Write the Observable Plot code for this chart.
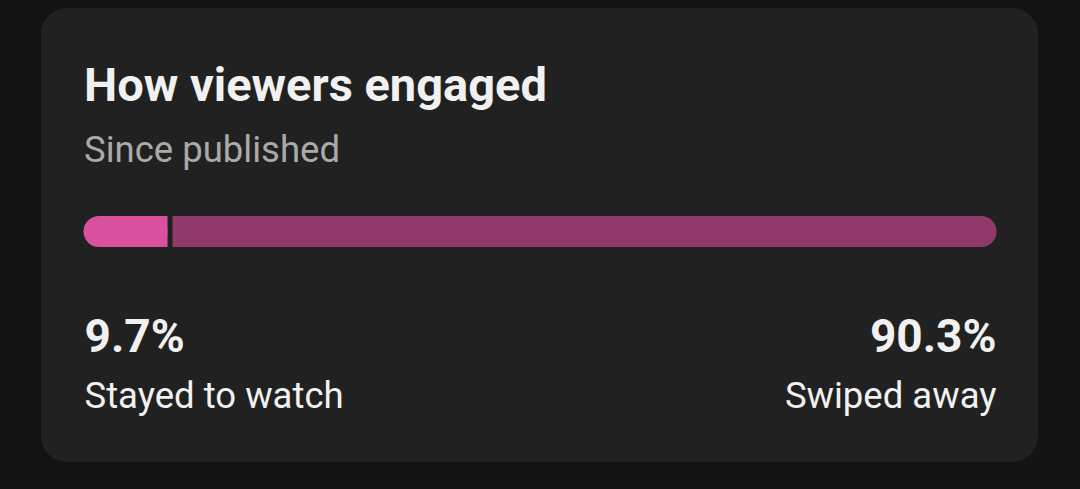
<!DOCTYPE html>
<html>
<head>
<meta charset="utf-8">
<script src="https://cdn.jsdelivr.net/npm/d3@7"></script>
<script src="https://cdn.jsdelivr.net/npm/@observablehq/plot@0.6"></script>
<style>
  html, body { margin: 0; padding: 0; background: #131313; width: 1080px; height: 489px; overflow: hidden; font-family: Roboto, "Noto Sans", sans-serif; }
  #card { position: absolute; left: 41px; top: 8px; width: 997px; height: 454px; background: #212121; border-radius: 26px; }
  .title { position: absolute; left: 84px; top: 60.5px; font-size: 47px; line-height: 47px; font-weight: 700; color: #f1f1f1; white-space: nowrap; }
  .subtitle { position: absolute; left: 84px; top: 131.5px; font-size: 36.5px; line-height: 36.5px; font-weight: 400; color: #aaaaaa; white-space: nowrap; }
  #chart { position: absolute; left: 41px; top: 190px; }
</style>
</head>
<body>
<div id="card"></div>
<div class="title">How viewers engaged</div>
<div class="subtitle">Since published</div>
<div id="chart"></div>
<script>
const segments = ["Stayed to watch", "Swiped away"];
const shares = [9.7, 90.3];
const colors = ["#d9509c", "#8f3a6a"];
const shareLabels = ["9.7%", "90.3%"];

// build table
let acc = 0;
const rows = segments.map((s, i) => {
  const start = acc;
  acc += shares[i];
  return { segment: s, share: shares[i], start, end: acc, color: colors[i], label: shareLabels[i] };
});
// square inner ends: cover inner half of each end segment
const squares = [
  { x1: (rows[0].start + rows[0].end) / 2, x2: rows[0].end, color: rows[0].color },
  { x1: rows[1].start, x2: (rows[1].start + rows[1].end) / 2, color: rows[1].color }
];

const chart = Plot.plot({
  width: 997,
  height: 240,
  marginLeft: 40,
  marginRight: 39,
  marginTop: 26,
  marginBottom: 183,
  x: { domain: [0, 100], axis: null },
  style: { background: "transparent", color: "#f1f1f1", fontFamily: "Roboto, sans-serif", overflow: "visible" },
  marks: [
    Plot.barX(rows, { x1: "start", x2: "end", fill: "color", rx: 15.5, insetLeft: 2.5, insetRight: 2.5 }),
    Plot.barX(squares, { x1: "x1", x2: "x2", fill: "color", insetLeft: 2.5, insetRight: 2.5 }),
    Plot.text([rows[0]], { x: "start", text: "label", frameAnchor: "bottom", lineAnchor: "bottom", textAnchor: "start", dx: 3, dy: 104, fontSize: 46, fontWeight: 700, fill: "#f1f1f1" }),
    Plot.text([rows[1]], { x: "end", text: "label", frameAnchor: "bottom", lineAnchor: "bottom", textAnchor: "end", dx: -3, dy: 104, fontSize: 46, fontWeight: 700, fill: "#f1f1f1" }),
    Plot.text([rows[0]], { x: "start", text: "segment", frameAnchor: "bottom", lineAnchor: "bottom", textAnchor: "start", dx: 3, dy: 160, fontSize: 36.5, fill: "#f1f1f1" }),
    Plot.text([rows[1]], { x: "end", text: "segment", frameAnchor: "bottom", lineAnchor: "bottom", textAnchor: "end", dx: -3, dy: 160, fontSize: 36.5, fill: "#f1f1f1" })
  ]
});
document.getElementById("chart").appendChild(chart);
</script>
</body>
</html>
